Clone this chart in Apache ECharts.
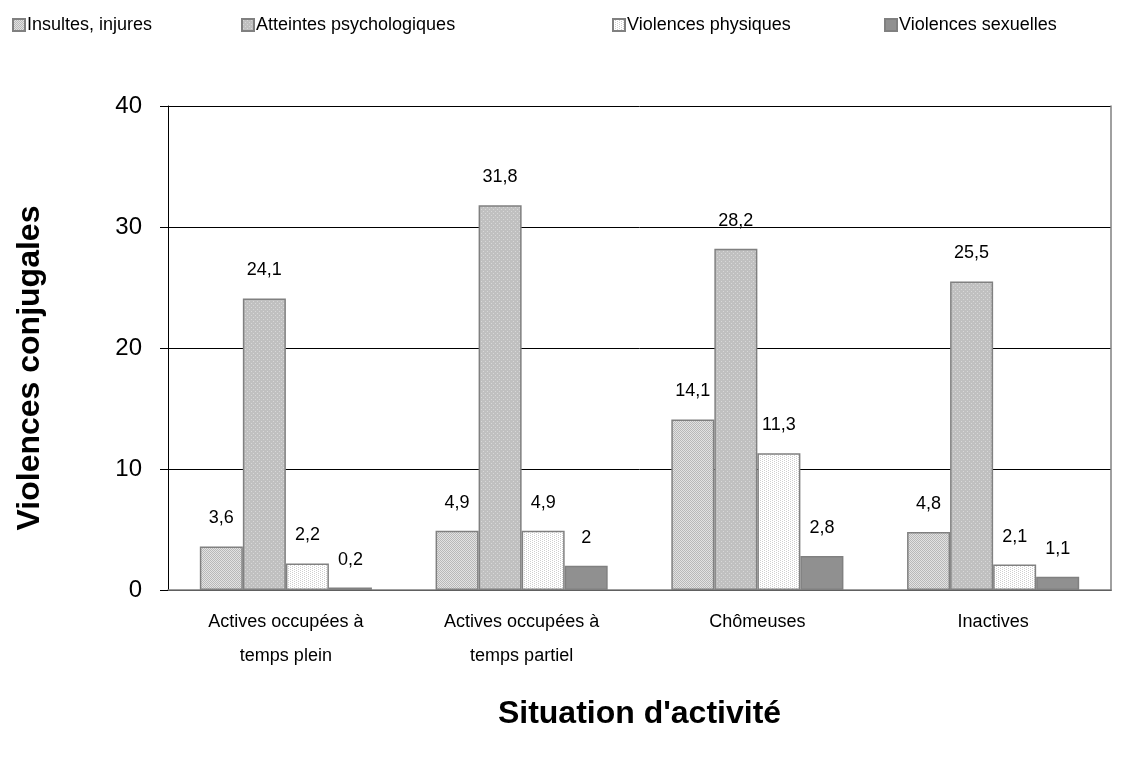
<!DOCTYPE html>
<html>
<head>
<meta charset="utf-8">
<script src="https://cdn.jsdelivr.net/npm/echarts@6/dist/echarts.min.js"></script>
<style>
	html, body { margin: 0; padding: 0; background: #fff; }
	#MyChart { width: 1142px; height: 757px; }
</style>
</head>
<body>
<div id="MyChart"></div>
<script>
var categories = ['Actives occupées à\ntemps plein', 'Actives occupées à\ntemps partiel', 'Chômeuses', 'Inactives'];
var insultes = [3.6, 4.9, 14.1, 4.8];
var atteintes = [24.1, 31.8, 28.2, 25.5];
var physiques = [2.2, 4.9, 11.3, 2.1];
var sexuelles = [0.2, 2, 2.8, 1.1];
var seriesNames = ['Insultes, injures', 'Atteintes psychologiques', 'Violences physiques', 'Violences sexuelles'];
var yTicks = [0, 10, 20, 30, 40];

var font = 'Liberation Sans, Arial, sans-serif';

// petits motifs de remplissage
function pattern(bg, fg, dots) {
	var c = document.createElement('canvas');
	c.width = 4;
	c.height = 4;
	var ctx = c.getContext('2d');
	ctx.fillStyle = bg;
	ctx.fillRect(0, 0, 4, 4);
	ctx.fillStyle = fg;
	dots.forEach(function(d) {
		ctx.fillRect(d[0], d[1], 1, 1);
	});
	return { image: c, repeat: 'repeat' };
}

var fills = [
	pattern('#e2e2e2', '#b8b8b8', [[0, 0], [2, 0], [1, 1], [3, 1], [0, 2], [2, 2], [1, 3], [3, 3]]),
	pattern('#c0c0c0', '#d8d8d8', [[1, 1], [3, 3]]),
	pattern('#ffffff', '#cfcfcf', [[0, 0], [0, 2], [2, 1], [2, 3]]),
	'#909090'
];
var data = [insultes, atteintes, physiques, sexuelles];
var legendLeft = [12, 241, 612, 884];

function fmt(p) {
	return String(p.value).replace('.', ',');
}

var series = [];
var legends = [];
for (var i = 0; i < 4; i++) {
	series.push({
		name: seriesNames[i],
		type: 'bar',
		data: data[i],
		barGap: '0%',
		barCategoryGap: '27%',
		itemStyle: {
			color: fills[i],
			borderColor: '#808080',
			borderWidth: 1.5
		},
		label: {
			show: true,
			position: 'top',
			distance: 19,
			formatter: fmt,
			color: '#000',
			fontFamily: font,
			fontSize: 18
		}
	});
	legends.push({
		data: [seriesNames[i]],
		left: legendLeft[i],
		top: 16,
		padding: 0,
		icon: 'rect',
		itemWidth: 12,
		itemHeight: 12,
		itemGap: 0,
		selectedMode: false,
		textStyle: {
			color: '#000',
			fontFamily: font,
			fontSize: 18,
			padding: [0, 0, 0, -3]
		}
	});
}

var option = {
	backgroundColor: '#fff',
	animation: false,
	legend: legends,
	grid: {
		left: 168,
		right: 31,
		top: 106,
		bottom: 167
	},
	xAxis: [{
		type: 'category',
		data: categories,
		name: "Situation d'activité",
		nameLocation: 'middle',
		nameGap: 108,
		nameTextStyle: {
			color: '#000',
			fontFamily: font,
			fontSize: 32,
			fontWeight: 'bold'
		},
		axisLine: { lineStyle: { color: '#000', width: 1 } },
		axisTick: { length: 8, lineStyle: { color: '#000' } },
		axisLabel: {
			color: '#000',
			fontFamily: font,
			fontSize: 18,
			lineHeight: 34,
			margin: 15,
			interval: 0
		}
	}, {
		type: 'category',
		position: 'top',
		data: categories,
		axisLine: { lineStyle: { color: '#808080', width: 1.5 } },
		axisTick: { show: false },
		axisLabel: { show: false }
	}],
	yAxis: [{
		type: 'value',
		min: yTicks[0],
		max: yTicks[yTicks.length - 1],
		interval: 10,
		name: 'Violences conjugales',
		nameLocation: 'middle',
		nameGap: 122,
		nameTextStyle: {
			color: '#000',
			fontFamily: font,
			fontSize: 32,
			fontWeight: 'bold',
			padding: [0, 40, 0, 0]
		},
		axisLine: { show: true, lineStyle: { color: '#000', width: 1 } },
		axisTick: { show: true, length: 8, lineStyle: { color: '#000' } },
		axisLabel: {
			color: '#000',
			fontFamily: font,
			fontSize: 24,
			margin: 26
		},
		splitLine: { show: true, lineStyle: { color: '#000', width: 1 } }
	}, {
		type: 'value',
		position: 'right',
		min: yTicks[0],
		max: yTicks[yTicks.length - 1],
		interval: 10,
		axisLine: { show: true, lineStyle: { color: '#808080', width: 1.5 } },
		axisTick: { show: false },
		axisLabel: { show: false },
		splitLine: { show: false }
	}],
	series: series
};

var myChart1 = echarts.init(document.getElementById('MyChart'));
myChart1.setOption(option);
</script>
</body>
</html>
